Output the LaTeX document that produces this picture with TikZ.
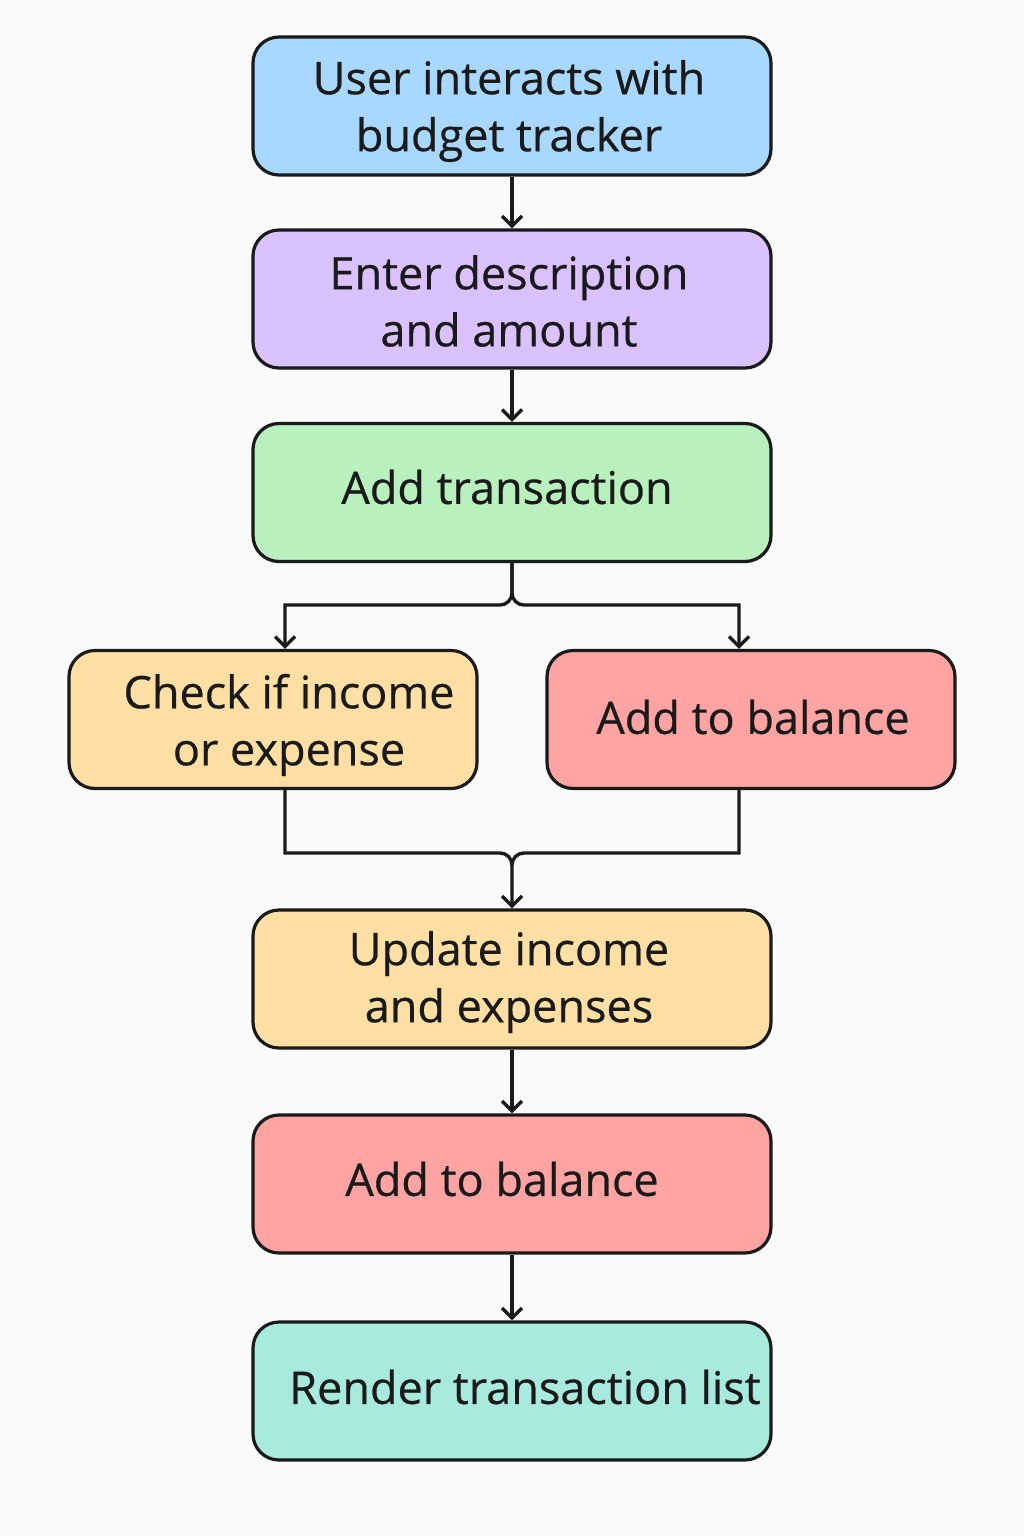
\documentclass[tikz,border=0pt]{standalone}
\usepackage{fontspec}
\setmainfont{Open Sans}[UprightFeatures={FakeBold=0.5}]
\usetikzlibrary{arrows.meta}
\definecolor{bg}{HTML}{FAFAFA}
\definecolor{cblue}{HTML}{A8D8FF}
\definecolor{cpurple}{HTML}{D9C2FF}
\definecolor{cgreen}{HTML}{B8F0BE}
\definecolor{corange}{HTML}{FFDFA3}
\definecolor{cred}{HTML}{FFA3A3}
\definecolor{cteal}{HTML}{A8EBDE}
\definecolor{ink}{HTML}{1A1A1A}
\tikzset{
  box/.style={draw=ink, line width=3.2pt, rounded corners=26pt, minimum width=518pt, minimum height=138pt, inner sep=0pt},
  sbox/.style={box, minimum width=408pt},
  lbl/.style={font=\fontsize{45}{57}\selectfont, text=ink, align=center},
  conn/.style={draw=ink, line width=3.4pt},
  arr/.style={conn, -{Straight Barb[length=10pt,width=20pt,line width=3.4pt]}},
}
\begin{document}
\begin{tikzpicture}[x=1pt,y=-1pt]
\fill[bg] (0,0) rectangle (1024,1536);
\useasboundingbox (0,0) rectangle (1024,1536);

\node[box, fill=cblue] (user) at (512,106) {};
\node[lbl] (userT) at (509,111) {User interacts with\\budget tracker};
\node[box, fill=cpurple] (enter) at (512,299) {};
\node[lbl] (enterT) at (509,301) {Enter description\\and amount};
\node[box, fill=cgreen] (add) at (512,492.5) {};
\node[lbl] (addT) at (507,487) {Add transaction};
\node[sbox, fill=corange] (check) at (273,719.5) {};
\node[lbl] (checkT) at (289,725) {Check if income\\or expense};
\node[sbox, fill=cred] (bal) at (751,719.5) {};
\node[lbl] (balT) at (753,717) {Add to balance};
\node[box, fill=corange] (upd) at (512,979) {};
\node[lbl] (updT) at (509,982) {Update income\\and expenses};
\node[box, fill=cred] (bal2) at (512,1184) {};
\node[lbl] (bal2T) at (502,1179) {Add to balance};
\node[box, fill=cteal] (rend) at (512,1391) {};
\node[lbl] (rendT) at (525,1387) {Render transaction list};

\draw[arr] (user.south) -- (enter.north);
\draw[arr] (enter.south) -- (add.north);

\coordinate (lx) at (285,0);
\coordinate (rx) at (739,0);

\draw[arr] (add.south) -- (512,593) to[out=-90,in=0] (500,605) -- (285,605) -- (check.north -| lx);
\draw[arr] (add.south) -- (512,593) to[out=-90,in=180] (524,605) -- (739,605) -- (bal.north -| rx);

\draw[conn] (check.south -| lx) -- (285,853) -- (500,853) to[out=0,in=90] (512,865);
\draw[arr] (bal.south -| rx) -- (739,853) -- (524,853) to[out=180,in=90] (512,865) -- (upd.north);

\draw[arr] (upd.south) -- (bal2.north);
\draw[arr] (bal2.south) -- (rend.north);
\end{tikzpicture}
\end{document}
